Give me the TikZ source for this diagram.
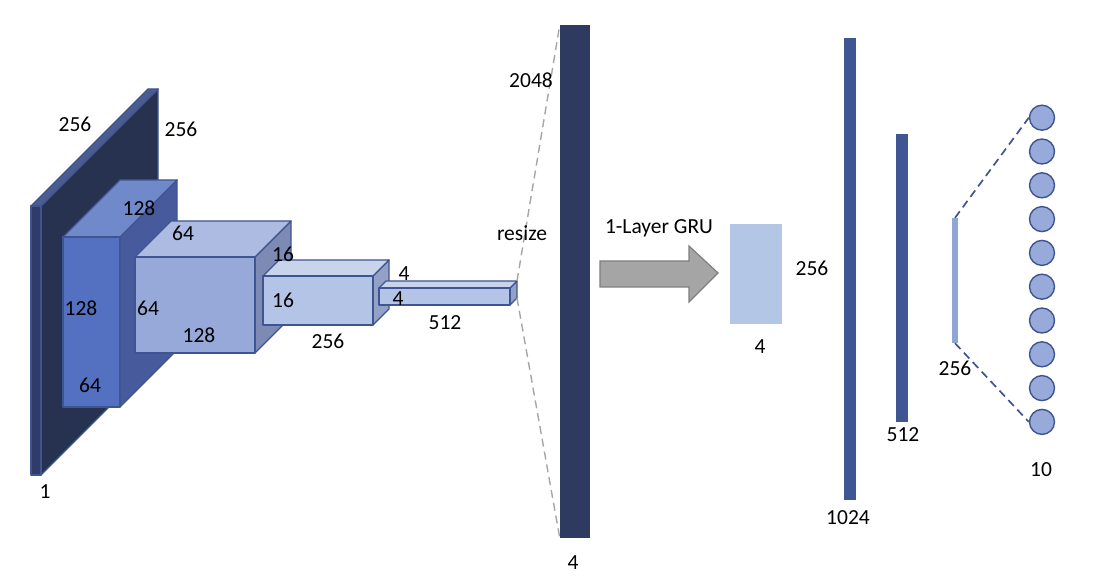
\documentclass[tikz,border=0pt]{standalone}
\usepackage{fontspec}
\setmainfont{Carlito}
\begin{document}
\begin{tikzpicture}[x=1pt,y=-1pt,
  edge/.style={draw=edgeblue,line width=1.4pt,line join=round},
  lbl/.style={font=\fontsize{21.5}{24}\selectfont,inner sep=0pt,text=black},
  gdash/.style={draw=dashgray,line width=1.4pt,dash pattern=on 8pt off 5pt},
  bdash/.style={draw=edgeblue,line width=1.7pt,dash pattern=on 8pt off 5pt},
  barn/.style={draw=none,inner sep=0pt,minimum width=0pt}]
\definecolor{edgeblue}{HTML}{3F5591}
\definecolor{dashgray}{HTML}{A6A6A6}
\definecolor{pfront}{HTML}{2F3C66}
\definecolor{ptop}{HTML}{4B5C8F}
\definecolor{pside}{HTML}{273150}
\definecolor{afront}{HTML}{5470C0}
\definecolor{atop}{HTML}{7089CB}
\definecolor{aside}{HTML}{475B9C}
\definecolor{bfront}{HTML}{97A9D8}
\definecolor{btop}{HTML}{ADBBE3}
\definecolor{bside}{HTML}{7D8BB4}
\definecolor{cfront}{HTML}{B4C4E6}
\definecolor{ctop}{HTML}{C8D3EC}
\definecolor{cside}{HTML}{94A1C6}
\definecolor{bigbar}{HTML}{2E3A5F}
\definecolor{densebar}{HTML}{3F5693}
\definecolor{thinbar}{HTML}{8FA5D8}
\definecolor{grubox}{HTML}{B4C6E6}
\definecolor{arrowfill}{HTML}{A5A5A5}
\definecolor{arrowedge}{HTML}{7F7F7F}
\definecolor{circfill}{HTML}{97AAD9}
\useasboundingbox (0,0) rectangle (1112,580);
\fill[white] (0,0) rectangle (1112,580);
% cuboid: #1 name, (#2,#3) front top-left, (#4,#5) front bottom-right, #6 depth, #7 front, #8 top, #9 side
\newcommand\mycuboid[9]{%
  \coordinate (#1-ftl) at (#2,#3);
  \coordinate (#1-fbr) at (#4,#5);
  \coordinate (#1-btr) at (#4+#6,#3-#6);
  \coordinate (#1-bbr) at (#4+#6,#5-#6);
  \filldraw[edge,fill=#9] (#4,#3) -- (#4+#6,#3-#6) -- (#4+#6,#5-#6) -- (#4,#5) -- cycle;
  \filldraw[edge,fill=#8] (#2,#3) -- (#2+#6,#3-#6) -- (#4+#6,#3-#6) -- (#4,#3) -- cycle;
  \filldraw[edge,fill=#7] (#2,#3) rectangle (#4,#5);
}
% input plate
\mycuboid{plate}{31}{206}{41}{475}{117}{pfront}{ptop}{pside}
% conv blocks
\mycuboid{ca}{63}{237}{120}{407}{57}{afront}{atop}{aside}
\mycuboid{cb}{135}{257}{255}{353}{36}{bfront}{btop}{bside}
\mycuboid{cc}{263}{276}{373}{325}{16}{cfront}{ctop}{cside}
\mycuboid{cd}{379}{288}{510}{305}{7}{cfront}{ctop}{cside}
% labels of the cnn part
\node[lbl] (t1) at (75,124) {256};
\node[lbl] (t2) at (181,129) {256};
\node[lbl] (t3) at (45,492) {1};
\node[lbl] (t4) at (139,208) {128};
\node[lbl] (t5) at (81,308) {128};
\node[lbl] (t6) at (90,385) {64};
\node[lbl] (t7) at (183,233) {64};
\node[lbl] (t8) at (148,308) {64};
\node[lbl] (t9) at (199,335) {128};
\node[lbl] (t10) at (283,254) {16};
\node[lbl] (t11) at (283,300) {16};
\node[lbl] (t12) at (328,341) {256};
\node[lbl] (t13) at (404,274) {4};
\node[lbl] (t14) at (398,299) {4};
\node[lbl] (t15) at (445,323) {512};
% resized bar
\node[barn,fill=bigbar,minimum width=30pt,minimum height=513pt] (big) at (575,281.5) {};
\draw[gdash] (cd-btr) -- (big.north west);
\draw[gdash] (cd-bbr) -- (big.south west);
\node[lbl] (t16) at (531,80) {2048};
\node[lbl] (t17) at (522,233) {resize};
\node[lbl] (t18) at (573,563) {4};
% GRU arrow
\filldraw[draw=arrowedge,fill=arrowfill,line width=1.2pt,line join=miter]
  (600,261) -- (689,261) -- (689,246) -- (718,273) -- (689,302) -- (689,287) -- (600,287) -- cycle;
\node[lbl] (t19) at (659,228) {1-Layer GRU};
\node[barn,fill=grubox,minimum width=52pt,minimum height=100pt] (gru) at (756,274) {};
\node[lbl] (t20) at (812,268) {256};
\node[lbl] (t21) at (760,347) {4};
% dense layers
\node[barn,fill=densebar,minimum width=12pt,minimum height=462pt] (d1) at (850,269) {};
\node[lbl] (t22) at (848,518) {1024};
\node[barn,fill=densebar,minimum width=12pt,minimum height=288pt] (d2) at (902,278) {};
\node[lbl] (t23) at (903,435) {512};
\node[barn,fill=thinbar,minimum width=6pt,minimum height=125pt] (d3) at (955,280.5) {};
\node[lbl] (t24) at (955,368) {256};
% output units
\foreach \i in {0,...,9} {
  \node[circle,draw=edgeblue,line width=1.4pt,fill=circfill,minimum size=25pt,inner sep=0pt] (o\i) at (1042,117.7+33.8*\i) {};
}
\draw[bdash] (d3.north) -- (o0.west);
\draw[bdash] (d3.south) -- (o9.west);
\node[lbl] (t25) at (1041,470) {10};
\end{tikzpicture}
\end{document}
